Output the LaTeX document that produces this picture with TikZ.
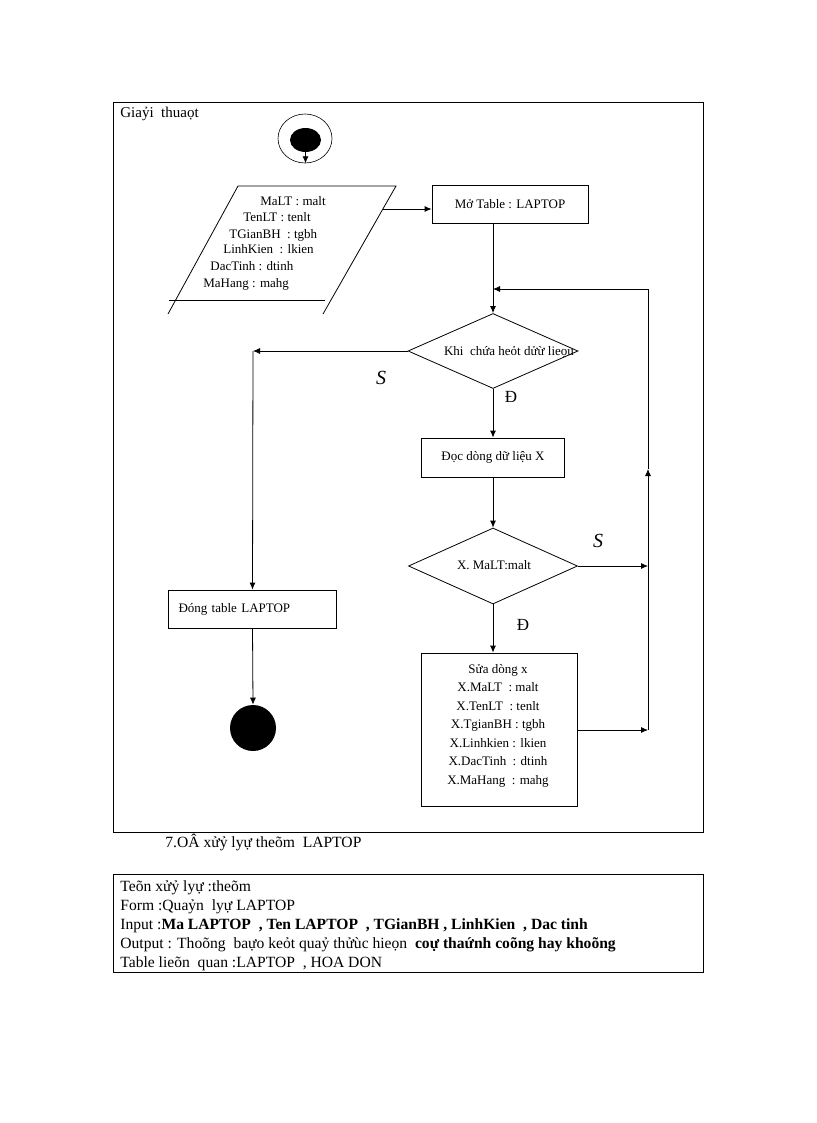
\documentclass[tikz,border=0pt]{standalone}
\usepackage{fontspec}
\setmainfont{Liberation Serif}
\usetikzlibrary{arrows.meta,shapes.geometric}

\begin{document}
\begin{tikzpicture}[x=1pt,y=-1pt,>={Latex[length=7pt,width=6pt]},line width=0.8pt]

  \tikzstyle{txt}=[font=\fontsize{13}{15}\selectfont,inner sep=0pt]
  \tikzstyle{big}=[font=\fontsize{15.6}{19}\selectfont,inner sep=0pt]
  \tikzstyle{yesno}=[font=\fontsize{17}{19}\selectfont,inner sep=0pt]
  \tikzstyle{nolabel}=[font=\fontsize{20}{22}\selectfont\itshape,inner sep=0pt]
  \tikzstyle{proc}=[rectangle,draw,minimum height=38pt,font=\fontsize{13}{15}\selectfont]
  \tikzstyle{decision}=[diamond,draw,minimum width=170pt,minimum height=75pt,inner sep=0pt]
  \tikzstyle{dot}=[circle,fill=black,inner sep=0pt]
  \tikzstyle{flow}=[->]

  \useasboundingbox (0,0) rectangle (816,1123);
  \fill[white] (0,0) rectangle (816,1123);

  %% \draw [help lines] (0,0) grid (816,1123);

  %% frame of the algorithm
  \draw (113,102) rectangle (703,832);
  \node (title) at (120,118) [anchor=base west,inner sep=0pt,
    font=\fontsize{15}{17}\selectfont] {Giaỷi\ \ thuaọt};

  %% start
  \node (ring)  at (305,138.5) [ellipse,draw,line width=0.6pt,
    minimum width=54pt,minimum height=49pt] {};
  \node (start) at (305.5,140) [ellipse,fill=black,inner sep=0pt,
    minimum width=31pt,minimum height=24pt] {};

  %% input
  \draw (168,314) -- (238,186) -- (396,186) -- (323,314);
  \draw (169,300) -- (325,300);
  \coordinate (inR) at (383,209);
  \foreach \x/\y/\t [count=\i] in {260/206/{MaLT : malt},243/222/{TenLT : tenlt},
      229/238/{TGianBH\ \ : tgbh},223/254/{LinhKien\ \ : lkien},
      210/270/{DacTinh : dtinh},203/287/{MaHang : mahg}}
    \node (in-\i) at (\x,\y) [txt,anchor=base west] {\t};

  \node (open)  at (510,204)   [proc,minimum width=156pt] {Mở Table : LAPTOP};
  \node (cond1) at (493,351)   [decision] {};
  \node (cond1-t) at (509,352) [txt] {Khi\ \ chứa heỏt dửừ lieọu};
  \node (read)  at (493,457.5) [proc,minimum width=143pt,minimum height=39pt] {Đọc dòng dữ liệu X};
  \node (cond2) at (493,566)   [decision,minimum width=169pt,minimum height=76pt] {};
  \node (cond2-t) at (494,565) [txt] {X. MaLT:malt};
  \node (edit)  at (499,729.5) [proc,minimum width=156pt,minimum height=153pt] {};
  \foreach \t [count=\i] in {{Sửa dòng x},{X.MaLT\ \ : malt},{X.TenLT\ \ : tenlt},
      {X.TgianBH : tgbh},{X.Linhkien : lkien},{X.DacTinh\ \ : dtinh},{X.MaHang\ \ : mahg}}
    \node (edit-\i) at (498,{673+18.5*(\i-1)}) [txt,anchor=base] {\t};
  \node (close) at (252.5,609) [proc,minimum width=168pt,text width=148pt,
    align=left] {Đóng table LAPTOP};
  \node (stop)  at (253,728)   [dot,minimum size=46pt] {};

  \coordinate (leftTurn) at (253,351);
  \coordinate (backTop)  at (648,289);
  \coordinate (backArr)  at (648,469);
  \coordinate (backMid)  at (648,566);
  \coordinate (backLow)  at (648,730);

  %% connectors
  \draw[flow] (start.south) -- (start.south |- ring.south);
  \draw[flow] (inR) -- (inR -| open.west);
  \draw[flow] (cond1.north |- open.south) -- (cond1.north);
  \draw[flow] (cond1.west) -- (leftTurn);
  \draw[flow] (leftTurn) -- (close.north);
  \draw[flow] (close.south) -- (stop.north);
  \draw[flow] (cond1.south) -- (read.north);
  \draw[flow] (read.south) -- (cond2.north);
  \draw[flow] (cond2.south) -- (cond2.south |- edit.north);
  \draw[flow] (cond2.east) -- (backMid);
  \draw[flow] (edit.east |- backLow) -- (backLow);
  \draw[flow] (backLow) -- (backArr);
  \draw       (backArr) -- (backTop);
  \draw[flow] (backTop) -- (backTop -| cond1.north);

  \node (no1)  at (381,378) [nolabel] {S};
  \node (yes1) at (511,397) [yesno]   {Đ};
  \node (no2)  at (598,541) [nolabel] {S};
  \node (yes2) at (523,625) [yesno]   {Đ};

  %% caption and description
  \node (caption) at (165,847) [big,anchor=base west] {7.OÂ xửỷ lyự theõm\ \ LAPTOP};
  \draw (113,874) rectangle (703,972);
  \node (spec-1) at (120,891)   [big,anchor=base west] {Teõn xửỷ lyự :theõm};
  \node (spec-2) at (120,910)   [big,anchor=base west] {Form :Quaỷn\ \ lyự LAPTOP};
  \node (spec-3) at (120,929)   [big,anchor=base west]
    {Input :\textbf{Ma LAPTOP\ \ , Ten LAPTOP\ \ , TGianBH , LinhKien\ \ , Dac tinh}};
  \node (spec-4) at (120,948.5) [big,anchor=base west]
    {Output : Thoõng\ \ baựo keỏt quaỷ thửùc hieọn\ \ \textbf{coự thaứnh coõng hay khoõng}};
  \node (spec-5) at (120,967.5) [big,anchor=base west] {Table lieõn\ \ quan :LAPTOP\ \ , HOA DON};
\end{tikzpicture}
\end{document}
